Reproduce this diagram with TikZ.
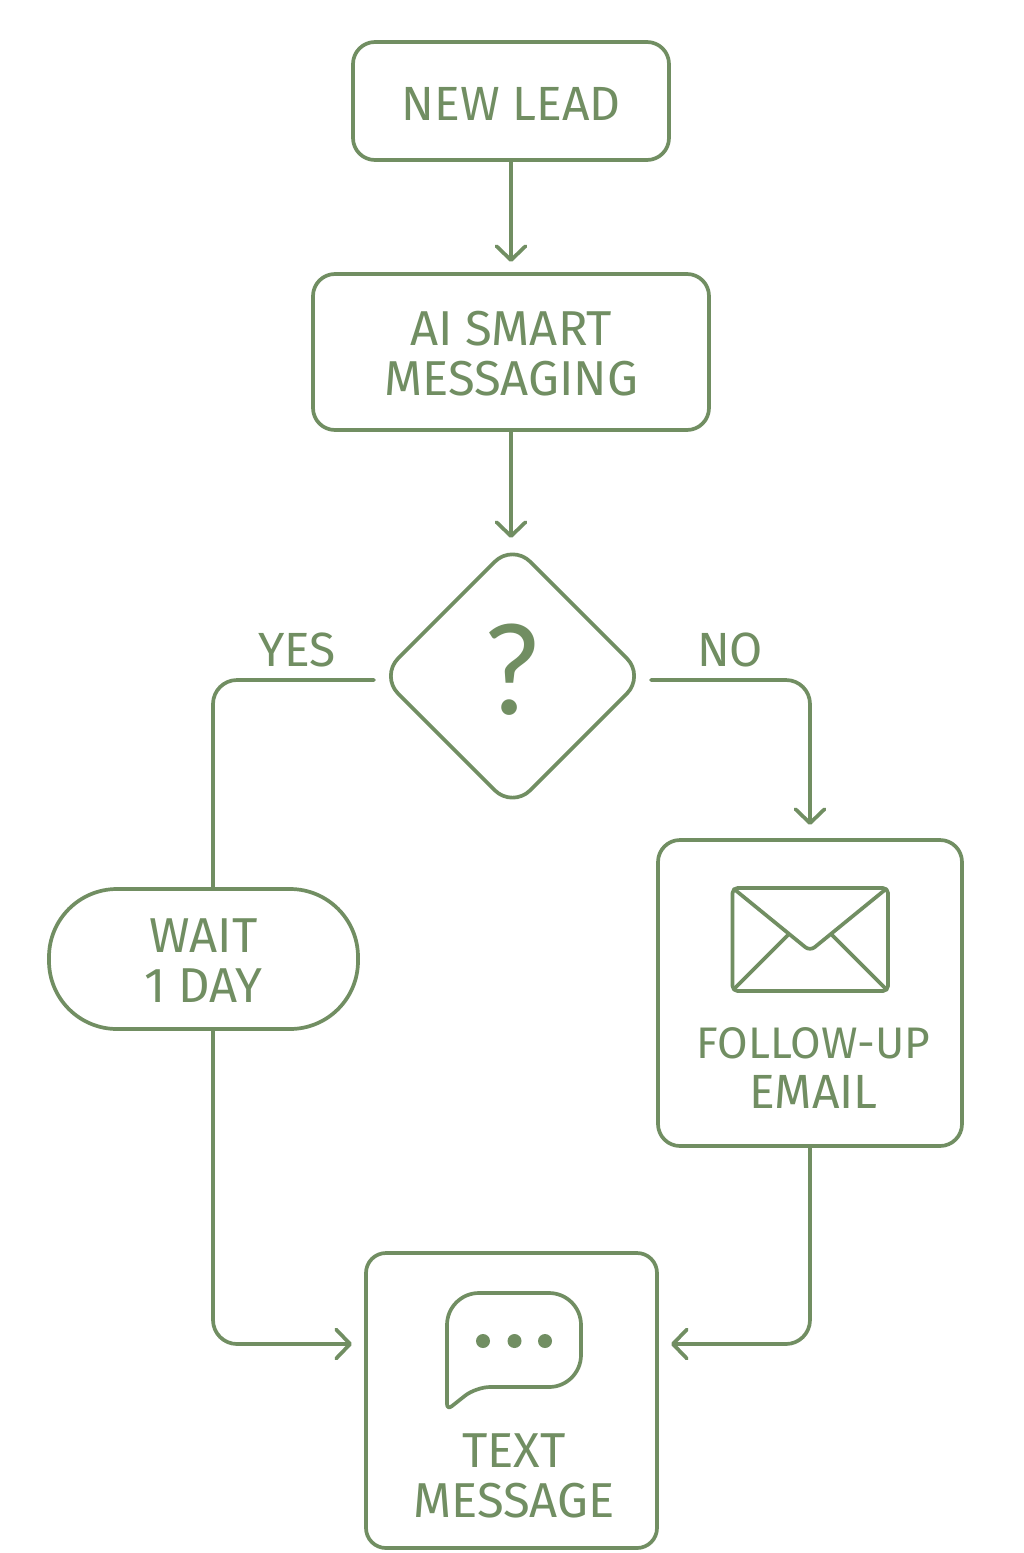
\documentclass[tikz,border=0pt]{standalone}
\usepackage{fontspec}
\setmainfont{Fira Sans}
\newfontfamily\qfont{Lato}
\usetikzlibrary{arrows.meta,shapes.geometric}
\definecolor{sage}{HTML}{718E62}
\tikzset{
  line/.style={draw=sage,line width=3.7pt,line join=round,line cap=round},
  box/.style={line,rectangle,rounded corners=22pt,inner sep=0pt,outer sep=0pt,text=sage,align=center,font=\fontsize{49}{50}\selectfont},
  lbl/.style={text=sage,align=center,inner sep=0pt,font=\fontsize{48}{50}\selectfont},
  conn/.style={line,rounded corners=24pt},
  arrow/.style={conn,-{Straight Barb[length=14pt,width=29pt,line width=3.7pt,round]}},
  icon/.style={draw=sage,line width=3.7pt,line join=round,line cap=round}
}
\begin{document}
\begin{tikzpicture}[x=1pt,y=-1pt]
\useasboundingbox[fill=white] (0,0) rectangle (1024,1553);
\node[box,minimum width=316pt,minimum height=118pt,font=\fontsize{48}{50}\selectfont] (new) at (511,101) {\rule{0pt}{38pt}NEW LEAD};
\node[box,minimum width=396pt,minimum height=156pt] (ai) at (511,352) {\rule{0pt}{38pt}AI SMART\\MESSAGING};
\node[line,diamond,aspect=1,rounded corners=25pt,inner sep=0pt,outer sep=0pt,minimum width=264pt,minimum height=264pt] (dec) at (512.5,676) {};
\node[text=sage,inner sep=0pt,font=\qfont\fontsize{125}{125}\selectfont] (q) at (512,670) {?};
\node[box,rounded corners=68pt,minimum width=309pt,minimum height=140pt] (wait) at (203.5,959) {\rule{0pt}{36pt}WAIT\\1 DAY};
\node[box,minimum width=304pt,minimum height=306pt] (email) at (810,993) {};
\node[box,rounded corners=20pt,minimum width=291pt,minimum height=295pt] (text) at (511.5,1400.5) {};
\node[lbl,font=\fontsize{44.2}{50}\selectfont] (emaillbl) at (813.5,1068) {FOLLOW-UP\\{\fontsize{48}{50}\selectfont EMAIL}};
\node[lbl,font=\fontsize{49}{50}\selectfont] (textlbl) at (514,1476) {TEXT\\MESSAGE};
\node[lbl,anchor=base] (yes) at (297,666) {YES};
\node[lbl,anchor=base] (no) at (730,666) {NO};
% connectors
\coordinate (yesstart) at (374,680);
\coordinate (nostart) at (651,680);
\coordinate (waittop) at (213,889);
\coordinate (waitbot) at (213,1029);
\coordinate (textleft) at (366,1344);
\coordinate (textright) at (657,1344);
\draw[arrow,shorten >=12pt] (new.south) -- (ai.north);
\draw[arrow,shorten >=6pt] (ai.south) -- (ai.south |- dec.north);
\draw[conn] (yesstart) -- (213,680) -- (waittop);
\draw[arrow,shorten >=14pt] (waitbot) -- (213,1344) -- (textleft);
\draw[arrow,shorten >=15pt] (nostart) -- (810,680) -- (email.north);
\draw[arrow,shorten >=14pt] (email.south) -- (810,1344) -- (textright);
% envelope
\draw[icon,rounded corners=5pt] (732.5,888) rectangle (888,991);
\draw[icon,rounded corners=6pt] (734,889) -- (810,951) -- (886,889);
\draw[icon] (734,989) -- (788,935);
\draw[icon] (886,989) -- (832,935);
% speech bubble
\draw[icon] (447,1350) [rounded corners=32pt] -- (447,1293) -- (581,1293) -- (581,1387) [rounded corners=14pt] -- (476,1387) [rounded corners=6pt] -- (447,1410) -- (447,1350);
\fill[sage] (483,1341) circle (7pt) (514.5,1341) circle (7pt) (545,1341) circle (7pt);
\end{tikzpicture}
\end{document}
